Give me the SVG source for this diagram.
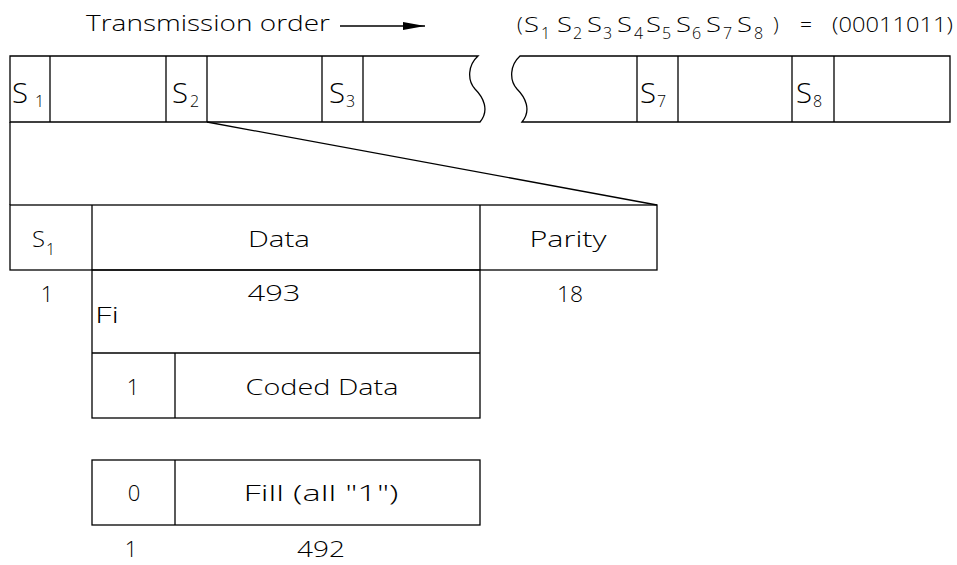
<svg xmlns="http://www.w3.org/2000/svg" width="957" height="565" viewBox="0 0 957 565">
<style>
.ln{fill:none;stroke:#000;stroke-width:1.3}
text{font-family:"Open Sans","DejaVu Sans",sans-serif;font-weight:300;fill:#000;font-size:22px}
.c{text-anchor:middle}
.big{font-size:28px}
.sub{font-size:16px}
.hd{font-size:21px}
</style>
<defs>
<marker id="ah" markerWidth="22" markerHeight="10" refX="22" refY="5" orient="auto" markerUnits="userSpaceOnUse">
<path d="M0,1 L22,5 L0,9 Z" fill="#000"/>
</marker>
</defs>
<rect width="957" height="565" fill="#fff"/>

<g id="title">
<text x="86" y="31" textLength="244" lengthAdjust="spacingAndGlyphs">Transmission order</text>
</g>
<g id="formula">
<text class="hd" x="517" y="32">(</text>
<text class="hd" x="524" y="32" textLength="15" lengthAdjust="spacingAndGlyphs">S</text><text class="sub" x="541" y="39">1</text>
<text class="hd" x="557" y="32" textLength="15" lengthAdjust="spacingAndGlyphs">S</text><text class="sub" x="573" y="39">2</text>
<text class="hd" x="587" y="32" textLength="15" lengthAdjust="spacingAndGlyphs">S</text><text class="sub" x="603" y="39">3</text>
<text class="hd" x="617" y="32" textLength="15" lengthAdjust="spacingAndGlyphs">S</text><text class="sub" x="634" y="39">4</text>
<text class="hd" x="646" y="32" textLength="15" lengthAdjust="spacingAndGlyphs">S</text><text class="sub" x="662" y="39">5</text>
<text class="hd" x="676" y="32" textLength="15" lengthAdjust="spacingAndGlyphs">S</text><text class="sub" x="692" y="39">6</text>
<text class="hd" x="706" y="32" textLength="15" lengthAdjust="spacingAndGlyphs">S</text><text class="sub" x="723" y="39">7</text>
<text class="hd" x="737" y="32" textLength="15" lengthAdjust="spacingAndGlyphs">S</text><text class="sub" x="754" y="39">8</text>
<text class="hd" x="773" y="32">)</text>
<text class="hd" x="800" y="32">=</text>
<text class="hd" x="832" y="32" textLength="121" lengthAdjust="spacingAndGlyphs">(00011011)</text>
</g>

<g id="connectors">
<line class="ln" x1="340" y1="26" x2="425" y2="26" marker-end="url(#ah)"/>
<line class="ln" x1="207" y1="122" x2="657" y2="205"/>
<line class="ln" x1="10" y1="122" x2="10" y2="205"/>
</g>

<g id="stream-left">
<path class="ln" d="M10,56 H478 C468,65 467,80 475,89 C483,97 490,110 480,122 H10 Z"/>
<line class="ln" x1="50" y1="56" x2="50" y2="122"/>
<line class="ln" x1="166" y1="56" x2="166" y2="122"/>
<line class="ln" x1="207" y1="56" x2="207" y2="122"/>
<line class="ln" x1="322" y1="56" x2="322" y2="122"/>
<line class="ln" x1="363" y1="56" x2="363" y2="122"/>
<text class="big" x="12" y="103" textLength="16" lengthAdjust="spacingAndGlyphs">S</text><text class="sub" x="35" y="107">1</text>
<text class="big" x="172" y="103" textLength="16" lengthAdjust="spacingAndGlyphs">S</text><text class="sub" x="190" y="107">2</text>
<text class="big" x="329" y="103" textLength="16" lengthAdjust="spacingAndGlyphs">S</text><text class="sub" x="346" y="107">3</text>
</g>

<g id="stream-right">
<path class="ln" d="M950,56 H520 C510,65 509,80 517,89 C525,97 532,110 522,122 H950 Z"/>
<line class="ln" x1="637" y1="56" x2="637" y2="122"/>
<line class="ln" x1="678" y1="56" x2="678" y2="122"/>
<line class="ln" x1="792" y1="56" x2="792" y2="122"/>
<line class="ln" x1="834" y1="56" x2="834" y2="122"/>
<text class="big" x="640" y="103" textLength="16" lengthAdjust="spacingAndGlyphs">S</text><text class="sub" x="657" y="107">7</text>
<text class="big" x="796" y="103" textLength="16" lengthAdjust="spacingAndGlyphs">S</text><text class="sub" x="813" y="107">8</text>
</g>

<g id="frame">
<rect class="ln" x="10" y="205" width="647" height="65"/>
<line class="ln" x1="92" y1="205" x2="92" y2="270"/>
<line class="ln" x1="480" y1="205" x2="480" y2="270"/>
<text x="32" y="247" textLength="13" lengthAdjust="spacingAndGlyphs">S</text><text class="sub" x="46" y="255">1</text>
<text class="c" x="279" y="247" textLength="62" lengthAdjust="spacingAndGlyphs">Data</text>
<text class="c" x="568" y="247" textLength="77" lengthAdjust="spacingAndGlyphs">Parity</text>
<text class="c" x="47" y="302">1</text>
<text class="c" x="274" y="301" textLength="53" lengthAdjust="spacingAndGlyphs">493</text>
<text class="c" x="570" y="302" textLength="26" lengthAdjust="spacingAndGlyphs">18</text>
</g>

<g id="data-field">
<rect class="ln" x="92" y="270" width="388" height="148"/>
<line class="ln" x1="92" y1="353" x2="480" y2="353"/>
<line class="ln" x1="175" y1="353" x2="175" y2="418"/>
<text x="95" y="323" textLength="24" lengthAdjust="spacingAndGlyphs">Fi</text>
<text class="c" x="133" y="395">1</text>
<text class="c" x="322" y="395" textLength="153" lengthAdjust="spacingAndGlyphs">Coded Data</text>
</g>

<g id="fill-field">
<rect class="ln" x="92" y="460" width="388" height="65"/>
<line class="ln" x1="175" y1="460" x2="175" y2="525"/>
<text class="c" x="134" y="501">0</text>
<text class="c" x="321" y="501" textLength="155" lengthAdjust="spacingAndGlyphs">Fill (all "1")</text>
<text class="c" x="131" y="557">1</text>
<text class="c" x="321" y="557" textLength="48" lengthAdjust="spacingAndGlyphs">492</text>
</g>
</svg>
